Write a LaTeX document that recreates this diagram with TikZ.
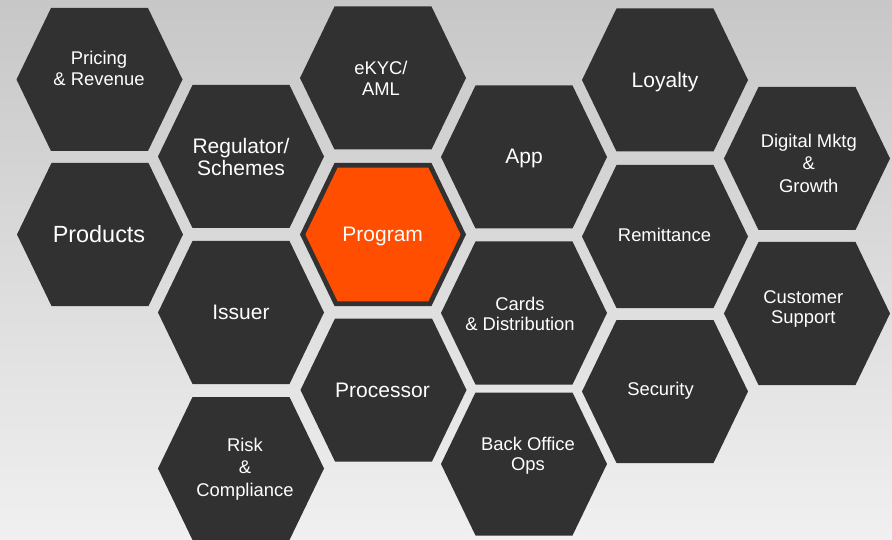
\documentclass[tikz,border=0pt]{standalone}
\usepackage{fontspec}
\setmainfont{Liberation Sans}
\usetikzlibrary{positioning}

\definecolor{cellgray}{RGB}{49,49,49}
\definecolor{progorange}{RGB}{255,78,0}
\definecolor{bgtop}{RGB}{199,199,199}
\definecolor{bgbottom}{RGB}{240,240,240}

% one honeycomb cell, centred at (#2,#3)
\newcommand{\hexcell}[3][]{%
  \fill[cellgray, shift={(#2,#3)}, #1] (-83,0) -- (-48.5,-71.5) -- (48.5,-71.5)
    -- (83,0) -- (48.5,71.5) -- (-48.5,71.5) -- cycle;}

\begin{document}
\begin{tikzpicture}[
    x=1pt, y=-1pt,
    cell/.style={text=white, align=center, inner sep=0pt, text depth=0pt},
    smalltxt/.style={cell, font=\fontsize{18.4}{20.5}\selectfont},
    midtxt/.style={cell, font=\fontsize{21}{22}\selectfont},
    bigtxt/.style={cell, font=\fontsize{23.4}{24}\selectfont}
]

% Background
\shade[top color=bgtop, bottom color=bgbottom] (0,0) rectangle (892,540);
\useasboundingbox (0,0) rectangle (892,540);

% Column 1
\hexcell{99.5}{79.5}
\hexcell{100}{234.5}
\node[smalltxt] (pricing) at (99,68.5) {Pricing\\\& Revenue};
\node[bigtxt] (products) at (99,234) {Products};

% Column 2
\hexcell{241}{156.5}
\hexcell{241}{312.5}
\hexcell{241}{468.5}
\node[midtxt] (regulator) at (241,156.5) {Regulator/\\Schemes};
\node[midtxt] (issuer) at (241,312.5) {Issuer};
\node[smalltxt, font=\fontsize{18.4}{22.5}\selectfont] (risk) at (245,467) {Risk\\\&\\Compliance};

% Column 3
\hexcell{383}{78}
\hexcell{383}{234.5}
\hexcell[progorange, scale=0.935]{383}{234.5}
\hexcell{383.5}{390}
\node[smalltxt] (ekyc) at (381,78.5) {eKYC/\\AML};
\node[midtxt] (program) at (382.7,234.3) {Program};
\node[midtxt] (processor) at (382.5,390.5) {Processor};

% Column 4
\hexcell{524}{157}
\hexcell{524}{313}
\hexcell{524}{464}
\node[midtxt] (app) at (524,156.5) {App};
\node[smalltxt] (cards) at (520,314) {Cards\\\& Distribution};
\node[smalltxt] (backoffice) at (528,453.7) {Back Office\\Ops};

% Column 5
\hexcell{665}{80}
\hexcell{665}{236.5}
\hexcell{665}{391.5}
\node[midtxt] (loyalty) at (665,80) {Loyalty};
\node[smalltxt] (remittance) at (664.5,235) {Remittance};
\node[smalltxt] (security) at (660.5,388.8) {Security};

% Column 6
\hexcell{807}{158.5}
\hexcell{807}{313.5}
\node[smalltxt, font=\fontsize{18.4}{22.5}\selectfont] (digital) at (808.8,163) {Digital Mktg\\\&\\Growth};
\node[smalltxt] (support) at (803.3,307.3) {Customer\\Support};

\end{tikzpicture}
\end{document}
